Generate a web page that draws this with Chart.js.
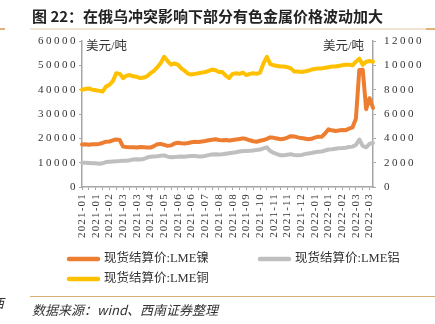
<!DOCTYPE html>
<html><head><meta charset="utf-8">
<script src="https://cdn.jsdelivr.net/npm/chart.js@4.4.1/dist/chart.umd.min.js"></script>
<style>
html,body{margin:0;padding:0;background:#fff;width:435px;height:324px;overflow:hidden;}
#wrap{position:absolute;left:0;top:0;width:435px;height:324px;}
#title{position:absolute;left:32px;top:5px;font:bold 15px "Noto Sans CJK SC";color:#222;white-space:nowrap;}
#source{position:absolute;left:32px;top:300px;font:italic 13px "Noto Sans CJK SC";color:#333;white-space:nowrap;}
#edge{position:absolute;left:-9px;top:293px;font:italic 13px "Noto Sans CJK SC";color:#333;}
.rule{position:absolute;height:0;}
</style></head>
<body>
<div id="wrap"><canvas id="c" width="435" height="324"></canvas></div>
<div id="title">图 22：在俄乌冲突影响下部分有色金属价格波动加大</div>
<div class="rule" style="left:30px;top:28px;width:398px;border-top:2px solid #EFE4D2;"></div>
<div class="rule" style="left:0px;top:28px;width:5px;border-top:2px solid #E2B27A;"></div>
<div class="rule" style="left:426px;top:28px;width:9px;border-top:2px solid #E2B27A;"></div>
<div class="rule" style="left:30px;top:296px;width:405px;border-top:1.5px solid #D9AE72;"></div>
<div id="edge">西</div>
<div id="source">数据来源：wind、西南证券整理</div>
<script>
// tick labels on the date axis (one every 4 points)
const tickLabels = ['2021-01','2021-01','2021-02','2021-03','2021-03','2021-04','2021-05','2021-06','2021-06','2021-07','2021-08','2021-08','2021-09','2021-10','2021-11','2021-11','2021-12','2022-01','2022-01','2022-02','2022-03','2022-03'];
const seriesNames = ['现货结算价:LME镍','现货结算价:LME铝','现货结算价:LME铜'];
const unitLabel = '美元/吨';
const yLeftTicks = [0,10000,20000,30000,40000,50000,60000];
const yRightTicks = [0,2000,4000,6000,8000,10000,12000];
// LME nickel (left axis)
const nickel = [
17500,17600,17400,17600,17550,17700,18100,18600,18700,19200,
19500,19300,16600,16400,16300,16300,16200,16400,16300,16200,
16200,16800,17600,17700,17300,16900,17100,17900,18200,18000,
17900,18100,18400,18600,18500,18700,18900,19200,19400,19600,
19300,19200,19300,19100,19300,19500,19700,20000,19700,19200,
18800,18600,19000,19300,19800,20400,20200,19900,19600,19800,
20300,20900,20800,20400,20100,19900,19600,19800,20300,20700,
20600,22000,23700,23300,23000,23200,23400,23300,24000,24500,
28000,48100,48200,32000,36500,32500];
// LME aluminium (right axis)
const aluminum = [
2000,1990,1980,1960,1950,1920,1950,2050,2080,2100,
2120,2130,2150,2160,2200,2270,2280,2260,2300,2420,
2480,2500,2520,2560,2600,2500,2440,2460,2480,2500,
2480,2520,2550,2540,2510,2500,2560,2620,2680,2700,
2680,2700,2740,2780,2820,2860,2920,2960,2950,2980,
3000,3050,3080,3180,3260,2950,2800,2700,2600,2600,
2650,2700,2620,2600,2620,2700,2760,2800,2850,2900,
2920,3000,3080,3100,3150,3180,3200,3230,3280,3320,
3450,3900,3380,3260,3550,3620];
// LME copper (right axis)
const copper = [
8000,8050,8100,8000,7950,7900,7850,8250,8400,8700,
9350,9300,8950,9150,9200,9100,9050,8950,9000,9100,
9350,9550,9850,10200,10700,10350,10050,10150,10050,9750,
9550,9300,9250,9300,9350,9400,9450,9550,9650,9600,
9450,9450,9150,8950,9300,9350,9300,9400,9200,9300,
9350,9300,9400,10150,10700,10100,10000,9950,9900,9900,
9850,9750,9500,9500,9450,9500,9550,9650,9700,9750,
9750,9800,9850,9900,9900,9950,10000,10050,10050,10000,
10300,10550,10050,10300,10350,10300];

const labels = nickel.map((_, i) => tickLabels[Math.min(Math.floor(i / 4), tickLabels.length - 1)]);

const AXIS = '#A6A6A6';
const TXT = '#333333';
const tickFont = {family: '"Liberation Serif","Times New Roman",serif', size: 11};

const spacingPlugin = {
  id: 'spacing',
  beforeUpdate(c) { c.ctx.letterSpacing = '2.5px'; },
  beforeDraw(c) { c.ctx.letterSpacing = '2.5px'; },
  afterDatasetsDraw(c) { c.ctx.letterSpacing = '1.2px'; },
  afterDraw(c) { c.ctx.letterSpacing = '0px'; }
};

const overlayPlugin = {
  id: 'overlay',
  afterDraw(chart) {
    const ctx = chart.ctx, a = chart.chartArea;
    ctx.save();
    ctx.letterSpacing = '0px';
    ctx.fillStyle = TXT;
    ctx.textBaseline = 'middle';
    ctx.font = '12.5px "Liberation Serif","Noto Sans CJK SC"';
    ctx.textAlign = 'left';
    ctx.fillText(unitLabel, a.left + 4, a.top + 6);
    ctx.textAlign = 'right';
    ctx.fillText(unitLabel, a.right - 9, a.top + 6);
    // legend
    const pos = [[67, 259], [258, 259], [67, 279]];
    ctx.textAlign = 'left';
    chart.data.datasets.forEach((d, i) => {
      const [x, y] = pos[i];
      ctx.strokeStyle = d.borderColor;
      ctx.lineWidth = 4.5;
      ctx.lineCap = 'round';
      ctx.beginPath(); ctx.moveTo(x + 2, y); ctx.lineTo(x + 31, y); ctx.stroke();
      ctx.fillText(d.label, x + 37, y);
    });
    ctx.restore();
  }
};

const tickColorX = ctx => (ctx.index % 2 === 0 ? AXIS : 'rgba(0,0,0,0)');

new Chart(document.getElementById('c'), {
  type: 'line',
  data: {
    labels: labels,
    datasets: [
      {label: seriesNames[0], data: nickel, yAxisID: 'yL', borderColor: '#ED7D31', backgroundColor: '#ED7D31'},
      {label: seriesNames[1], data: aluminum, yAxisID: 'yR', borderColor: '#BFBFBF', backgroundColor: '#BFBFBF'},
      {label: seriesNames[2], data: copper, yAxisID: 'yR', borderColor: '#FFC000', backgroundColor: '#FFC000'}
    ]
  },
  options: {
    responsive: false,
    animation: false,
    devicePixelRatio: 1,
    layout: {padding: {top: 41, bottom: 83, left: 0, right: 0}},
    elements: {
      point: {radius: 0, hoverRadius: 0},
      line: {borderWidth: 4, tension: 0, borderJoinStyle: 'round', borderCapStyle: 'round'}
    },
    plugins: {legend: {display: false}, tooltip: {enabled: false}, title: {display: false}},
    scales: {
      x: {
        type: 'category',
        offset: false,
        grid: {drawOnChartArea: false, drawTicks: true, tickLength: 3, tickColor: tickColorX, tickWidth: 1},
        border: {color: AXIS, width: 1.5},
        ticks: {
          z: 1,
          autoSkip: false, minRotation: 90, maxRotation: 90, padding: 3,
          color: TXT, font: tickFont,
          callback: function (v, i) { return i % 4 === 0 ? this.getLabelForValue(v) : ''; }
        },
        afterFit: s => { s.height = 54; }
      },
      yL: {
        position: 'left', min: 0, max: 60000,
        grid: {drawOnChartArea: false, tickLength: 3, tickColor: AXIS},
        border: {color: AXIS, width: 1.5},
        ticks: {color: TXT, font: tickFont, padding: 1, callback: v => String(v)},
        afterBuildTicks: s => { s.ticks = yLeftTicks.map(v => ({value: v})); },
        afterFit: s => { s.width = 82; }
      },
      yR: {
        position: 'right', min: 0, max: 12000,
        grid: {drawOnChartArea: false, tickLength: 3, tickColor: AXIS},
        border: {color: AXIS, width: 1.5},
        ticks: {color: TXT, font: tickFont, padding: 8, callback: v => String(v)},
        afterBuildTicks: s => { s.ticks = yRightTicks.map(v => ({value: v})); },
        afterFit: s => { s.width = 62; }
      }
    }
  },
  plugins: [spacingPlugin, overlayPlugin]
});
</script>
</body></html>
